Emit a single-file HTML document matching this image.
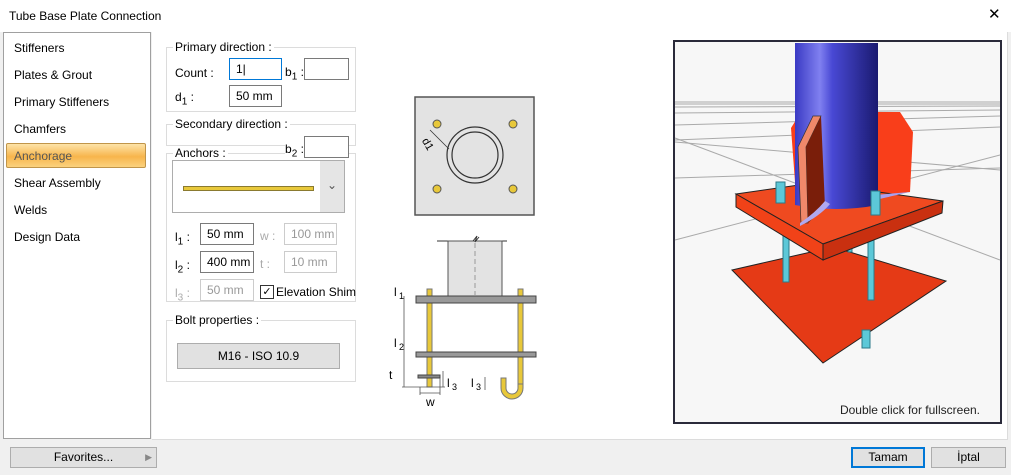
<!DOCTYPE html>
<html><head><meta charset="utf-8"><style>
body{margin:0;width:1011px;height:475px;background:#f0f0f0;position:relative;overflow:hidden;font-family:"Liberation Sans",sans-serif;font-size:12px;color:#000}
.a{position:absolute}
.grp{position:absolute;border:1px solid #dcdcdc}
.gl{position:absolute;top:-8px;left:6px;background:#fff;padding:0 2px;font-size:12px}
.in{position:absolute;background:#fff;border:1px solid #7a7a7a;height:20px;box-sizing:border-box;font-size:12px;padding:3px 0 0 6px}
.dis{border-color:#ccc;color:#999}
.li{position:absolute;left:14px;font-size:12px}
.btn{position:absolute;background:#e1e1e1;border:1px solid #adadad;box-sizing:border-box;text-align:center;font-size:12px}
</style></head><body>
<div class="a" style="left:0;top:0;width:1011px;height:32px;background:#fff"></div>
<div class="a" style="left:9px;top:9px;font-size:12px">Tube Base Plate Connection</div>
<div class="a" style="left:988px;top:5px;font-size:15px">✕</div>
<div class="a" style="left:3px;top:32px;width:146px;height:405px;background:#fff;border:1px solid #a0a0a0"></div>
<div class="li" style="top:41px">Stiffeners</div>
<div class="li" style="top:68px">Plates &amp; Grout</div>
<div class="li" style="top:95px">Primary Stiffeners</div>
<div class="li" style="top:122px">Chamfers</div>
<div class="a" style="left:6px;top:143px;width:138px;height:23px;border:1px solid #c0954a;border-radius:2px;background:linear-gradient(#fde3a8,#f7b54c 55%,#fbd27e)"></div>
<div class="li" style="top:149px;color:#555">Anchorage</div>
<div class="li" style="top:176px">Shear Assembly</div>
<div class="li" style="top:203px">Welds</div>
<div class="li" style="top:230px">Design Data</div>
<div class="a" style="left:152px;top:32px;width:855px;height:407px;background:#fff;border-bottom:1px solid #dcdcdc;border-right:1px solid #dcdcdc"></div>

<div class="grp" style="left:166px;top:47px;width:188px;height:63px"><span class="gl">Primary direction :</span></div>
<div class="a" style="left:175px;top:66px">Count :</div>
<div class="in" style="left:229px;top:58px;width:53px;height:22px;border-color:#0078d7">1|</div>
<div class="a" style="left:285px;top:65px">b<sub style="font-size:10px">1</sub> :</div>
<div class="in" style="left:304px;top:58px;width:45px;height:22px"></div>
<div class="a" style="left:175px;top:90px">d<sub style="font-size:10px">1</sub> :</div>
<div class="in" style="left:229px;top:85px;width:53px;height:22px">50 mm</div>
<div class="grp" style="left:166px;top:124px;width:188px;height:20px"><span class="gl">Secondary direction :</span></div>
<div class="grp" style="left:166px;top:153px;width:188px;height:147px"><span class="gl">Anchors :</span></div>
<div class="a" style="left:285px;top:142px;background:#fff">b<sub style="font-size:10px">2</sub> :</div>
<div class="in" style="left:304px;top:136px;width:45px;height:22px"></div>
<div class="a" style="left:172px;top:160px;width:173px;height:53px;background:#fff;border:1px solid #adadad;box-sizing:border-box"></div>
<div class="a" style="left:320px;top:161px;width:24px;height:51px;background:#e5e5e5;text-align:center;line-height:48px;color:#555">⌄</div>
<div class="a" style="left:183px;top:186px;width:129px;height:3px;background:#e8c83a;border:1px solid #8a7a30"></div>
<div class="a" style="left:175px;top:230px">l<sub style="font-size:10px">1</sub> :</div>
<div class="in" style="left:200px;top:223px;width:54px;height:22px">50 mm</div>
<div class="a" style="left:260px;top:229px;color:#aaa">w :</div>
<div class="in dis" style="left:284px;top:223px;width:53px;height:22px">100 mm</div>
<div class="a" style="left:175px;top:258px">l<sub style="font-size:10px">2</sub> :</div>
<div class="in" style="left:200px;top:251px;width:54px;height:22px">400 mm</div>
<div class="a" style="left:260px;top:257px;color:#aaa">t :</div>
<div class="in dis" style="left:284px;top:251px;width:53px;height:22px">10 mm</div>
<div class="a" style="left:175px;top:286px;color:#aaa">l<sub style="font-size:10px">3</sub> :</div>
<div class="in dis" style="left:200px;top:279px;width:54px;height:22px">50 mm</div>
<div class="a" style="left:260px;top:285px;width:12px;height:12px;border:1px solid #333;font-size:11px;line-height:12px;text-align:center">✓</div>
<div class="a" style="left:276px;top:285px">Elevation Shim</div>
<div class="grp" style="left:166px;top:320px;width:188px;height:60px"><span class="gl">Bolt properties :</span></div>
<div class="btn" style="left:177px;top:343px;width:163px;height:26px;line-height:24px">M16 - ISO 10.9</div>

<svg class="a" style="left:0;top:0" width="1011" height="475">
<g font-family="Liberation Sans" font-size="12">
<rect x="415" y="97" width="119" height="118" fill="#e3e3e3" stroke="#555" stroke-width="1.5"/>
<circle cx="475" cy="155" r="28" fill="none" stroke="#333" stroke-width="1.2"/>
<circle cx="475" cy="155" r="23" fill="none" stroke="#333" stroke-width="1.2"/>
<g fill="#e8c83a" stroke="#555"><circle cx="437" cy="124" r="4"/><circle cx="513" cy="124" r="4"/><circle cx="437" cy="189" r="4"/><circle cx="513" cy="189" r="4"/></g>
<line x1="430" y1="130" x2="449" y2="149" stroke="#333" stroke-width=".8"/>
<text x="422" y="150" transform="rotate(60 430 145)" font-size="11">d1</text>
<line x1="437" y1="241" x2="507" y2="241" stroke="#333"/>
<rect x="448" y="241" width="54" height="55" fill="#e3e3e3" stroke="#555"/>
<line x1="475" y1="243" x2="475" y2="295" stroke="#999" stroke-dasharray="5,3"/>
<path d="M473 241 l4 -5 l-2 6 l4 -5" fill="none" stroke="#333"/>
<g stroke="#777" fill="#e8c83a"><rect x="427" y="289" width="5" height="98"/><rect x="518" y="289" width="5" height="95"/><path d="M523 384 v4 a11 11 0 0 1 -22 0 v-10 h5 v10 a6 6 0 0 0 12 0 v-4z"/></g>
<rect x="416" y="296" width="120" height="7" fill="#999" stroke="#444"/>
<rect x="416" y="352" width="120" height="5" fill="#999" stroke="#444"/>
<rect x="418" y="375" width="22" height="3" fill="#888" stroke="#444"/>
<g stroke="#555" stroke-width=".8" fill="none"><line x1="404" y1="296" x2="404" y2="387"/><line x1="402" y1="387" x2="445" y2="387"/><line x1="420" y1="395" x2="420" y2="387"/><line x1="440" y1="395" x2="440" y2="378"/><line x1="420" y1="393" x2="440" y2="393"/><line x1="443" y1="371" x2="443" y2="387"/><line x1="485" y1="377" x2="485" y2="390"/></g>
<text x="394" y="296">l</text><text x="399" y="299" font-size="9">1</text>
<text x="394" y="347">l</text><text x="399" y="350" font-size="9">2</text>
<text x="389" y="379">t</text>
<text x="447" y="387">l</text><text x="452" y="390" font-size="9">3</text>
<text x="471" y="387">l</text><text x="476" y="390" font-size="9">3</text>
<text x="426" y="406">w</text>
</g>
<rect x="674" y="41" width="327" height="382" fill="#f7f7f7" stroke="#2a2a3a" stroke-width="2"/>
<g stroke="#aaa" stroke-width="1">
<line x1="675" y1="102" x2="1000" y2="102"/><line x1="675" y1="104" x2="1000" y2="104"/><line x1="675" y1="107" x2="1000" y2="106"/><line x1="675" y1="113" x2="1000" y2="110"/><line x1="675" y1="125" x2="1000" y2="116"/><line x1="675" y1="140" x2="1000" y2="127"/><line x1="675" y1="240" x2="1000" y2="155"/><line x1="675" y1="138" x2="1000" y2="260"/><line x1="675" y1="178" x2="1000" y2="168"/><line x1="675" y1="142" x2="1000" y2="170"/>
</g>
<polygon points="732,270 833,247 946,281 823,363" fill="#e53a16" stroke="#222"/>
<g fill="#5cc8d8" stroke="#2b7a88"><rect x="783" y="230" width="6" height="52"/><rect x="868" y="235" width="6" height="65"/><rect x="862" y="330" width="8" height="18"/><rect x="848" y="240" width="4" height="12"/></g>
<polygon points="791,128 796,120 796,190 795,182" fill="#f93e1a"/>
<polygon points="875,112 900,112 913,132 910,192 875,197" fill="#f93e1a"/>
<polygon points="736,194 813,183 943,201 823,244" fill="#ef4a20" stroke="#222"/>
<polygon points="736,194 823,244 823,260 736,207" fill="#f14218" stroke="#222"/>
<polygon points="823,244 943,201 942,213 823,260" fill="#c93010" stroke="#222"/>
<defs><linearGradient id="cg" x1="0" x2="1"><stop offset="0" stop-color="#3a3ac4"/><stop offset=".3" stop-color="#8080f0"/><stop offset=".45" stop-color="#4848d4"/><stop offset="1" stop-color="#1a1a70"/></linearGradient></defs>
<path d="M795 43 h83 v162 q-42 8 -83 0z" fill="url(#cg)"/>
<path d="M875 195 l35 -3 l-35 8z" fill="#a8a0f0"/>
<polygon points="798,147 813,116 821,116 806,147 808,223 801,223" fill="#f0886a" stroke="#333" stroke-width=".7"/>
<polygon points="806,147 821,116 825,207 808,223" fill="#7a1e0a"/>
<path d="M800 226 q20 -10 30 -22 l-5 -3 q-10 12 -25 22z" fill="#b0a8f0"/>
<g fill="#5cc8d8" stroke="#2b7a88"><rect x="776" y="182" width="9" height="21"/><rect x="871" y="191" width="9" height="24"/></g>
<text x="980" y="414" font-family="Liberation Sans" font-size="12" fill="#222" text-anchor="end">Double click for fullscreen.</text>
</svg>

<div class="btn" style="left:10px;top:447px;width:147px;height:21px;line-height:19px">Favorites...<span style="position:absolute;right:4px;color:#888;font-size:9px">▶</span></div>
<div class="btn" style="left:851px;top:447px;width:74px;height:21px;line-height:17px;border:2px solid #0078d7">Tamam</div>
<div class="btn" style="left:931px;top:447px;width:75px;height:21px;line-height:19px">İptal</div>
</body></html>
